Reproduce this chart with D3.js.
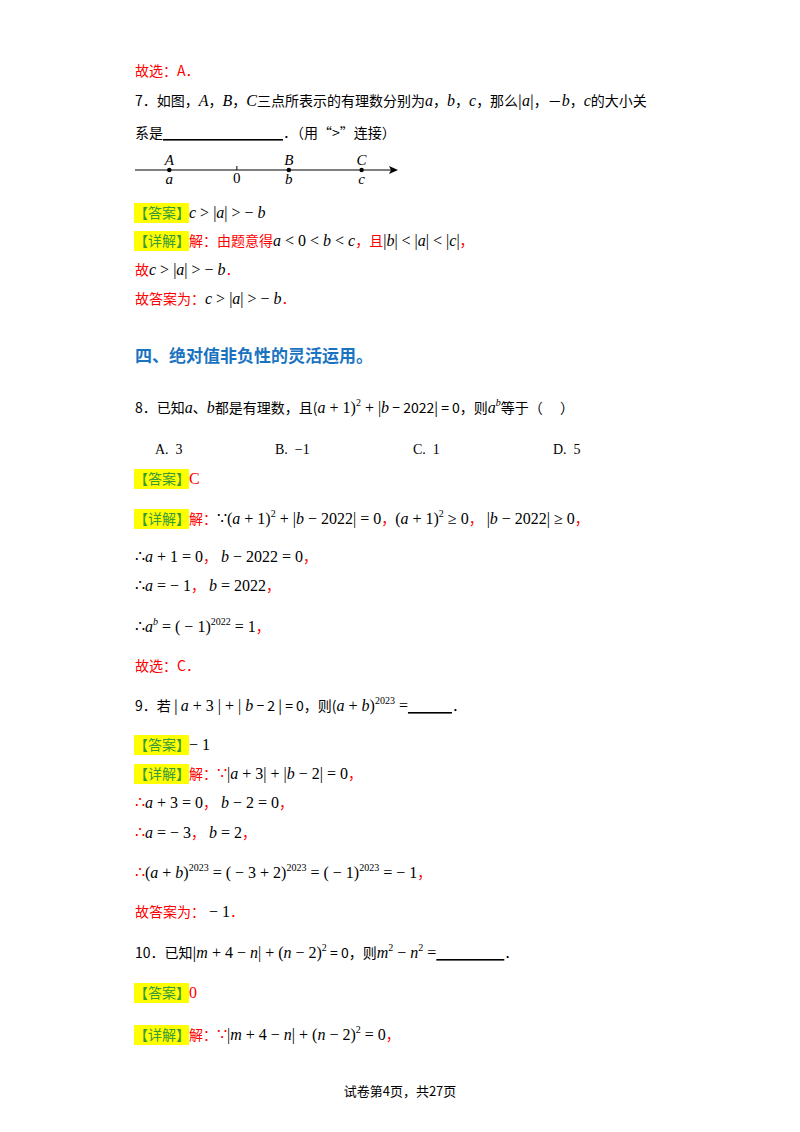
<!DOCTYPE html>
<html><head><meta charset="utf-8">
<script src="https://cdn.jsdelivr.net/npm/d3@7"></script>
<style>body{margin:0;background:#fff}</style></head>
<body><svg id="c" width="800" height="1132"></svg>
<script>
// markup: ~ red toggle, _ italic toggle, ^ superscript toggle, ¤ underline blank toggle
const lines = [
 {y:76, t:"~故选：A．~"},
 {y:106, t:"7．如图，_A_，_B_，_C_三点所表示的有理数分别为_a_，_b_，_c_，那么|_a_|，－_b_，_c_的大小关"},
 {y:138, t:"系是¤                              ¤．（用“>”连接）"},
 {y:218, label:"答案", t:"_c_ > |_a_| > − _b_"},
 {y:246, label:"详解", t:"~解：由题意得~_a_ < 0 < _b_ < _c_~，且~|_b_| < |_a_| < |_c_|~，~"},
 {y:275, t:"~故~_c_ > |_a_| > − _b_~．~"},
 {y:304, t:"~故答案为：~_c_ > |_a_| > − _b_~．~"},
 {y:413, t:"8．已知_a_、_b_都是有理数，且(_a_ + 1)^2^ + |_b_ − 2022| = 0，则_a_^_b_^等于（　 ）"},
 {y:454, opts:true},
 {y:484, label:"答案", t:"~C~"},
 {y:524, label:"详解", t:"~解：~∵(_a_ + 1)^2^ + |_b_ − 2022| = 0~，~(_a_ + 1)^2^ ≥ 0~，~ |_b_ − 2022| ≥ 0~，~"},
 {y:562, t:"∴_a_ + 1 = 0~，~ _b_ − 2022 = 0~，~"},
 {y:591, t:"∴_a_ = − 1~，~ _b_ = 2022~，~"},
 {y:632, t:"∴_a_^_b_^ = ( − 1)^2022^ = 1~，~"},
 {y:671, t:"~故选：C．~"},
 {y:711, t:"9．若 | _a_ + 3 | + | _b_ − 2 | = 0，则(_a_ + _b_)^2023^ =¤           ¤．"},
 {y:750, label:"答案", t:"− 1"},
 {y:779, label:"详解", t:"~解：~~∵~|_a_ + 3| + |_b_ − 2| = 0~，~"},
 {y:808, t:"~∴~_a_ + 3 = 0~，~ _b_ − 2 = 0~，~"},
 {y:838, t:"~∴~_a_ = − 3~，~ _b_ = 2~，~"},
 {y:878, t:"~∴~(_a_ + _b_)^2023^ = ( − 3 + 2)^2023^ = ( − 1)^2023^ = − 1~，~"},
 {y:917, t:"~故答案为：~ − 1~．~"},
 {y:958, t:"10．已知|_m_ + 4 − _n_| + (_n_ − 2)^2^ = 0，则_m_^2^ − _n_^2^ =¤                 ¤．"},
 {y:998, label:"答案", t:"~0~"},
 {y:1040, label:"详解", t:"~解：~~∵~|_m_ + 4 − _n_| + (_n_ − 2)^2^ = 0~，~"}
];
const options = [["A.  3",155],["B.  −1",275],["C.  1",413],["D.  5",553]];
const heading = {y:362, t:"四、绝对值非负性的灵活运用。"};
const footer = "试卷第4页，共27页";
// number line data
const nlPoints = [{name:"A", lab:"a", v:-1.3},{name:"B", lab:"b", v:1.0},{name:"C", lab:"c", v:2.4}];
const nlZero = 0;

const svg = d3.select("#c");
const CJK = "'Noto Sans CJK SC', sans-serif";
const MATH = "'Liberation Serif', 'DejaVu Serif', serif";

function render(x, y, str){
  const txt = svg.append("text").attr("x",x).attr("y",y)
    .attr("font-family",CJK).attr("font-size",14).attr("fill","#000");
  let red=false, it=false, sup=false, ul=false, buf="", pendingDy=0;
  const flush=()=>{
    if(!buf) return;
    const ts = txt.append("tspan").text(buf).attr("fill", red?"#ff0000":"#000")
      .style("white-space","pre");
    if(it) ts.attr("font-style","italic").attr("font-family",MATH).attr("font-size",16);
    else if(/^[\x20-\x7e−≥|()∵∴ ]+$/.test(buf)) ts.attr("font-family",MATH).attr("font-size",16);
    if(sup) ts.attr("font-size",10);
    if(ul) ts.attr("text-decoration","underline").attr("font-weight","bold");
    if(pendingDy) { ts.attr("dy",pendingDy); pendingDy=0; }
    buf="";
  };
  for(const ch of str){
    if(ch==="~"){flush();red=!red;}
    else if(ch==="_"){flush();it=!it;}
    else if(ch==="^"){flush();sup=!sup;pendingDy += sup?-7:7;}
    else if(ch==="¤"){flush();ul=!ul;}
    else buf+=ch;
  }
  flush();
  return txt;
}

lines.forEach(l=>{
  let x=135;
  if(l.label){
    svg.append("rect").attr("x",134).attr("y",l.y-15).attr("width",55).attr("height",20).attr("fill","#ffff00");
    svg.append("text").attr("x",134).attr("y",l.y).attr("font-family",CJK).attr("font-size",14)
      .attr("fill","#3a9a3a").text("【"+l.label+"】");
    x=189;
  }
  if(l.opts){
    options.forEach(o=>
      svg.append("text").attr("x",o[1]).attr("y",l.y).attr("font-family",MATH).attr("font-size",14).style("white-space","pre").text(o[0]));
  } else render(x,l.y,l.t);
});

svg.append("text").attr("x",135).attr("y",heading.y).attr("font-family",CJK).attr("font-size",17)
  .attr("font-weight","bold").attr("fill","#1a73c0").text(heading.t);
svg.append("text").attr("x",400).attr("y",1096).attr("text-anchor","middle").attr("font-family",CJK)
  .attr("font-size",13).text(footer);

// number line
const xs = d3.scaleLinear().domain([-1.96,3.1]).range([135,398]);
const ly = 170;
svg.append("line").attr("x1",xs(-1.96)).attr("x2",xs(3.1)-2).attr("y1",ly).attr("y2",ly).attr("stroke","#000").attr("stroke-width",1.2);
svg.append("path").attr("d",`M${xs(3.1)},${ly} l-9,-4 l2,4 l-2,4 z`).attr("fill","#000");
svg.append("line").attr("x1",xs(nlZero)).attr("x2",xs(nlZero)).attr("y1",ly-4).attr("y2",ly).attr("stroke","#000");
svg.append("text").attr("x",xs(nlZero)).attr("y",ly+13).attr("text-anchor","middle").attr("font-family",MATH).attr("font-size",15).text("0");
const g = svg.selectAll("g.pt").data(nlPoints).join("g");
g.append("circle").attr("cx",d=>xs(d.v)).attr("cy",ly).attr("r",2.2);
g.append("text").attr("x",d=>xs(d.v)).attr("y",ly-5).attr("text-anchor","middle").attr("font-family",MATH)
  .attr("font-style","italic").attr("font-size",15).text(d=>d.name);
g.append("text").attr("x",d=>xs(d.v)).attr("y",ly+14).attr("text-anchor","middle").attr("font-family",MATH)
  .attr("font-style","italic").attr("font-size",15).text(d=>d.lab);
</script></body></html>
